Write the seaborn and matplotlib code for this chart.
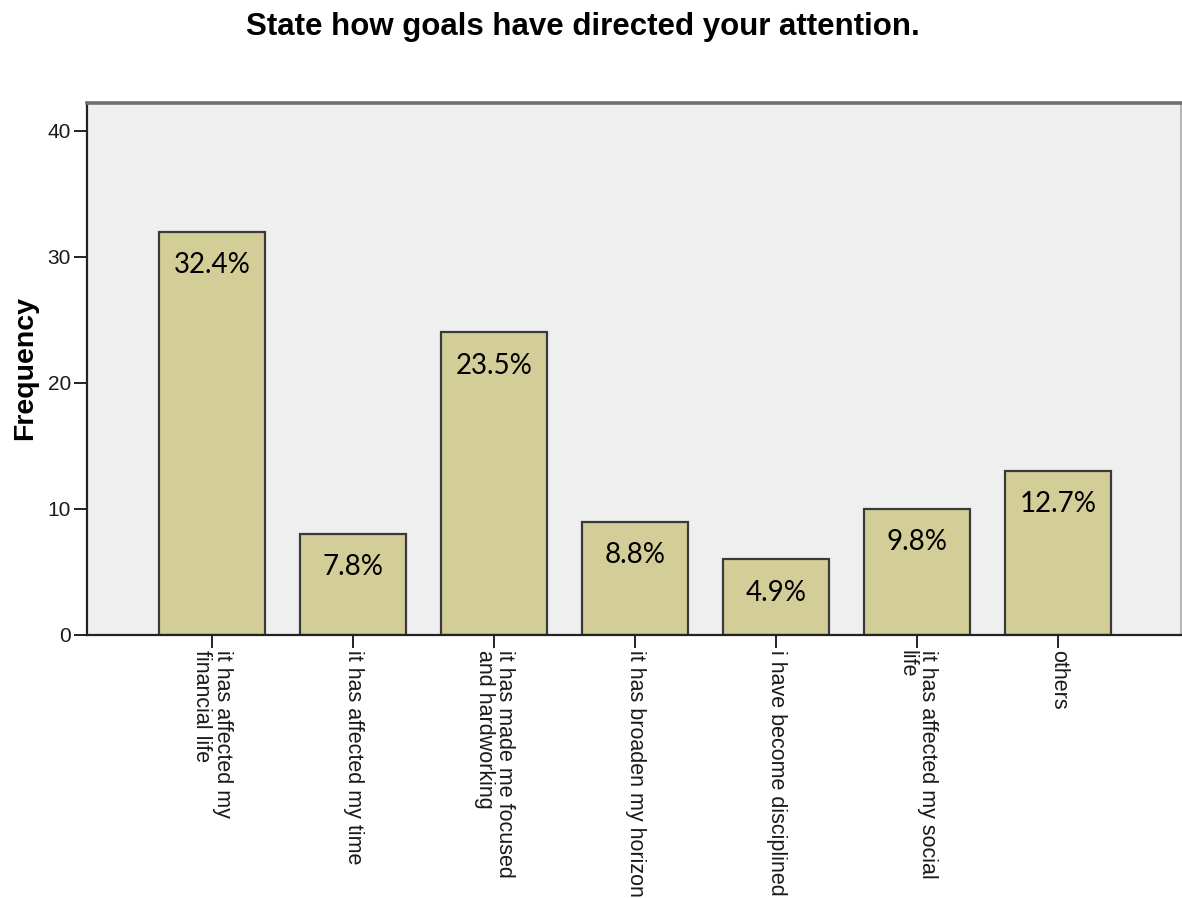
import matplotlib
matplotlib.use("Agg")
import matplotlib.pyplot as plt
import seaborn as sns
import pandas as pd

# Responses and their frequencies
categories = [
    "it has affected my\nfinancial life",
    "it has affected my time",
    "it has made me focused\nand hardworking",
    "it has broaden my horizon",
    "i have become disciplined",
    "it has affected my social\nlife",
    "others",
]
frequencies = [32, 8, 24, 9, 6, 10, 13]
percent_labels = ["32.4%", "7.8%", "23.5%", "8.8%", "4.9%", "9.8%", "12.7%"]
y_ticks = [0, 10, 20, 30, 40]

df = pd.DataFrame({"response": categories, "count": frequencies})

sns.set_style("white")
plt.rcParams["font.family"] = ["Liberation Sans", "DejaVu Sans"]

fig = plt.figure(figsize=(11.82, 8.98), dpi=100)
ax = fig.add_axes([87 / 1182, 1 - 635 / 898, (1181 - 87) / 1182, (635 - 103) / 898])
ax.set_facecolor("#EFEFEF")

sns.barplot(
    data=df, x="response", y="count", ax=ax,
    color="#D3CE97", saturation=1, width=0.75,
    edgecolor="#3A3A3A", linewidth=1.6,
)

ax.set_xlim(-0.887, 6.87)
ax.set_ylim(0, 42.2)
ax.set_yticks(y_ticks)
ax.set_yticklabels([str(v) for v in y_ticks], fontsize=15, color="#1A1A1A")
ax.set_xticks(range(len(categories)))
ax.set_xticklabels(categories, rotation=-90, ha="center", va="top",
                   fontsize=15.5, linespacing=0.95, color="#1A1A1A",
                   multialignment="left")
ax.tick_params(axis="both", which="major", direction="out", length=9.5,
               width=1.4, color="#222222", bottom=True, left=True)
ax.tick_params(axis="x", pad=1)
ax.tick_params(axis="y", pad=2)

ax.set_xlabel("")
ax.set_ylabel("")

for side in ["left", "bottom"]:
    ax.spines[side].set_color("#222222")
    ax.spines[side].set_linewidth(1.6)
ax.spines["top"].set_color("#6E6E6E")
ax.spines["top"].set_linewidth(2.6)
ax.spines["right"].set_color("#A8A8A8")
ax.spines["right"].set_linewidth(1.2)
ax.spines["right"].set_visible(True)
ax.spines["top"].set_visible(True)

# Percentage labels inside each bar, just below its top
for patch, lab in zip(ax.patches, percent_labels):
    cx = patch.get_x() + patch.get_width() / 2
    top = patch.get_height()
    ax.annotate(lab, xy=(cx, top), xytext=(0, -24), textcoords="offset points",
                ha="center", va="center", fontsize=20, color="black",
                family=["Lato", "DejaVu Sans"])

fig.text(0.493, 1 - 27 / 898, "State how goals have directed your attention.",
         ha="center", va="center", fontsize=22.5, fontweight="bold", color="black")
fig.text(25 / 1182, 1 - 368 / 898, "Frequency", rotation=90,
         ha="center", va="center", fontsize=20.5, fontweight="bold", color="black")

fig.savefig("out.png", dpi=100, facecolor="white")
